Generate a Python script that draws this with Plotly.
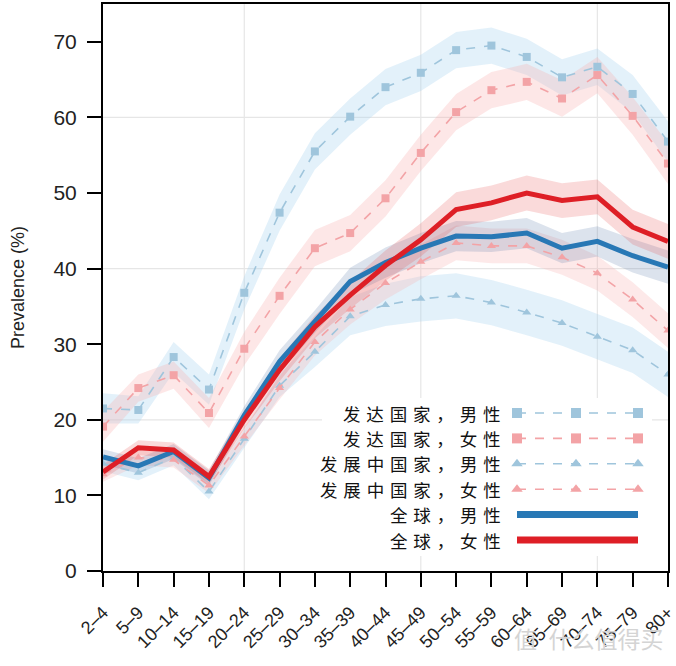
import plotly.graph_objects as go

ages = ["2–4", "5–9", "10–14", "15–19", "20–24", "25–29", "30–34", "35–39", "40–44",
        "45–49", "50–54", "55–59", "60–64", "65–69", "70–74", "75–79", "80+"]

dev_male = [21.5, 21.3, 28.3, 24.0, 36.8, 47.4, 55.5, 60.1, 64.0, 65.9, 68.9, 69.5, 68.0, 65.3, 66.7, 63.1, 56.8]
dev_female = [19.1, 24.2, 25.9, 20.9, 29.4, 36.4, 42.7, 44.7, 49.3, 55.3, 60.7, 63.6, 64.7, 62.5, 65.6, 60.2, 53.9]
devg_male = [14.2, 13.0, 15.0, 10.5, 17.5, 24.5, 29.0, 33.7, 35.2, 36.0, 36.4, 35.5, 34.2, 32.8, 31.0, 29.2, 26.0]
devg_female = [12.8, 15.0, 14.7, 11.3, 17.8, 24.2, 30.3, 34.6, 38.1, 40.9, 43.4, 43.0, 43.0, 41.5, 39.4, 35.9, 31.8]
glob_male = [15.1, 13.9, 15.8, 12.3, 20.6, 27.7, 33.0, 38.3, 40.8, 42.7, 44.3, 44.2, 44.7, 42.7, 43.6, 41.7, 40.2]
glob_female = [13.1, 16.3, 16.0, 12.5, 20.0, 26.6, 32.3, 36.5, 40.4, 43.8, 47.8, 48.7, 50.0, 49.0, 49.5, 45.5, 43.6]

dev_male_ci = [2.0, 1.8, 2.0, 2.0, 2.2, 2.4, 2.4, 2.4, 2.4, 2.4, 2.4, 2.4, 2.4, 2.4, 2.4, 2.5, 2.7]
dev_female_ci = [2.0, 1.8, 1.8, 2.0, 2.2, 2.4, 2.4, 2.4, 2.4, 2.4, 2.4, 2.4, 2.4, 2.4, 2.4, 2.5, 2.7]
devg_male_ci = [1.0, 1.0, 1.0, 1.0, 1.2, 1.5, 2.0, 2.5, 2.8, 3.0, 3.0, 3.0, 3.0, 3.0, 3.0, 3.0, 3.0]
devg_female_ci = [1.0, 1.0, 1.0, 1.0, 1.2, 1.5, 1.8, 2.0, 2.2, 2.3, 2.3, 2.3, 2.3, 2.3, 2.3, 2.3, 2.3]
glob_male_ci = [1.0, 1.0, 1.0, 1.0, 1.2, 1.5, 1.5, 1.8, 2.0, 2.0, 2.0, 2.0, 2.0, 2.0, 2.0, 2.2, 2.2]
glob_female_ci = [1.0, 1.0, 1.0, 1.0, 1.2, 1.5, 1.5, 1.8, 2.0, 2.2, 2.3, 2.3, 2.3, 2.3, 2.3, 2.3, 2.3]

labels = ["发达国家，男性", "发达国家，女性", "发展中国家，男性", "发展中国家，女性", "全球，男性", "全球，女性"]

BLUE_L = "#9fc5dc"
PINK_L = "#f3a3a6"
BLUE_D = "#2878b5"
RED_D = "#de1f26"

x = list(range(len(ages)))

series = [
    dict(v=dev_male, ci=dev_male_ci, band="rgba(170,212,240,0.33)", color=BLUE_L, sym="square", kind="dash"),
    dict(v=dev_female, ci=dev_female_ci, band="rgba(248,175,175,0.30)", color=PINK_L, sym="square", kind="dash"),
    dict(v=devg_male, ci=devg_male_ci, band="rgba(170,212,240,0.33)", color=BLUE_L, sym="triangle-up", kind="dash"),
    dict(v=devg_female, ci=devg_female_ci, band="rgba(248,175,175,0.28)", color=PINK_L, sym="triangle-up", kind="dash"),
    dict(v=glob_male, ci=glob_male_ci, band="rgba(80,115,165,0.20)", color=BLUE_D, sym=None, kind="solid"),
    dict(v=glob_female, ci=glob_female_ci, band="rgba(230,70,70,0.20)", color=RED_D, sym=None, kind="solid"),
]

fig = go.Figure()

for s in series:
    up = [a + b for a, b in zip(s["v"], s["ci"])]
    lo = [a - b for a, b in zip(s["v"], s["ci"])]
    fig.add_trace(go.Scatter(x=x + x[::-1], y=up + lo[::-1], fill="toself",
                             fillcolor=s["band"], line=dict(width=0), mode="lines",
                             hoverinfo="skip", showlegend=False))
for s in series:
    if s["kind"] == "dash":
        fig.add_trace(go.Scatter(x=x, y=s["v"], mode="lines+markers",
                                 line=dict(color=s["color"], width=1.6, dash="dash"),
                                 marker=dict(symbol=s["sym"], size=8, color=s["color"]),
                                 showlegend=False))
for s in series:
    if s["kind"] == "solid":
        fig.add_trace(go.Scatter(x=x, y=s["v"], mode="lines",
                                 line=dict(color=s["color"], width=5),
                                 showlegend=False))

L0, L1 = 103, 668
B0, T0 = 571, 4
def px(p):
    return (p - L0) / (L1 - L0)
def py(p):
    return (B0 - p) / (B0 - T0)

LEG_FONT = 17.5
rows_y = [413, 438.4, 463.8, 489.2, 514.6, 540]
sx0, sxm, sx1 = px(517), px(576), px(638)
for i, s in enumerate(series):
    yy = py(rows_y[i])
    if s["kind"] == "dash":
        fig.add_trace(go.Scatter(x=[sx0, sxm, sx1], y=[yy, yy, yy], xaxis="x2", yaxis="y2",
                                 mode="lines+markers",
                                 line=dict(color=s["color"], width=1.6, dash="dash"),
                                 marker=dict(symbol=s["sym"], size=10, color=s["color"]),
                                 showlegend=False, hoverinfo="skip"))
    else:
        fig.add_trace(go.Scatter(x=[sx0, sx1], y=[yy, yy], xaxis="x2", yaxis="y2",
                                 mode="lines", line=dict(color=s["color"], width=7),
                                 showlegend=False, hoverinfo="skip"))
    fig.add_annotation(x=px(503), y=yy, xref="paper", yref="paper",
                       text="\u2004".join(list(labels[i])),
                       showarrow=False, xanchor="right", yanchor="middle",
                       font=dict(family="Noto Sans CJK SC", size=LEG_FONT, color="#111111"))

shapes = []
for gy in [20, 40, 60]:
    shapes.append(dict(type="line", xref="paper", yref="y", x0=0, x1=1, y0=gy, y1=gy,
                       line=dict(color="#e6e6e6", width=1.2), layer="below"))
for gx in [4, 9, 14]:
    shapes.append(dict(type="line", xref="x", yref="paper", x0=gx, x1=gx, y0=0, y1=1,
                       line=dict(color="#e6e6e6", width=1.2), layer="below"))
shapes.append(dict(type="rect", xref="paper", yref="paper", x0=px(322), x1=px(652),
                   y0=py(556), y1=py(398), fillcolor="white", line=dict(width=0), layer="below"))

fig.add_annotation(x=px(666), y=py(638), xref="paper", yref="paper", text="值\u2002什么值得买",
                   showarrow=False, xanchor="right", yanchor="middle",
                   font=dict(family="Noto Sans CJK SC", size=23, color="#d4d4d4"))

fig.update_layout(
    width=676, height=666,
    margin=dict(l=L0, r=676 - L1, t=T0, b=666 - B0, autoexpand=False),
    paper_bgcolor="white", plot_bgcolor="white",
    shapes=shapes,
    font=dict(family="Liberation Sans", color="#222222"),
    xaxis=dict(range=[-0.001, 16.001], tickvals=x, ticktext=ages, tickangle=-45,
               showgrid=False, zeroline=False, showline=True, linecolor="black", linewidth=2,
               mirror=True, ticks="outside", ticklen=14, tickwidth=1.5, tickcolor="black",
               tickfont=dict(size=18, color="#222222"), ticklabelstandoff=8,
               ticklabeloverflow="allow", automargin=False),
    yaxis=dict(range=[0, 75], tickvals=[0, 10, 20, 30, 40, 50, 60, 70],
               showgrid=False, zeroline=False, showline=True, linecolor="black", linewidth=2,
               mirror=True, ticks="outside", ticklen=14, tickwidth=1.5, tickcolor="black",
               tickfont=dict(size=21, color="#222222"), ticklabelstandoff=6, automargin=False,
               title=dict(text="Prevalence (%)", font=dict(size=18, color="#222222"), standoff=24)),
    xaxis2=dict(range=[0, 1], overlaying="x", visible=False, fixedrange=True),
    yaxis2=dict(range=[0, 1], overlaying="y", visible=False, fixedrange=True),
)

fig.write_html("out.html", config={"displayModeBar": False},
               post_script="document.body.style.margin='0';document.body.style.overflow='hidden';")
